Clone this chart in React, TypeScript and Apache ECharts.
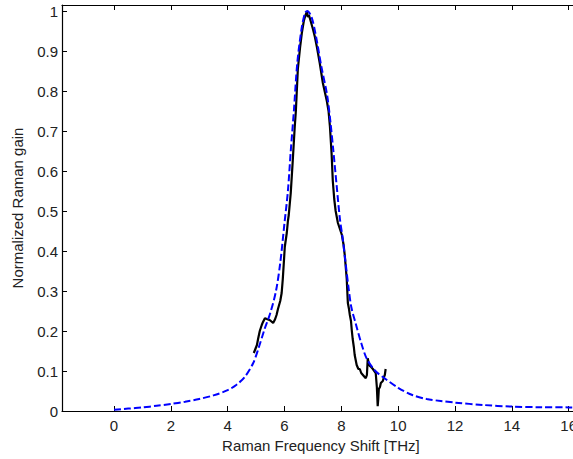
import React, { useEffect, useRef } from "react";
import * as echarts from "echarts";

const xTicks = [0, 2, 4, 6, 8, 10, 12, 14, 16];
const yTicks = [0, 0.1, 0.2, 0.3, 0.4, 0.5, 0.6, 0.7, 0.8, 0.9, 1];

// Measured Raman gain (black solid)
const measuredX = [4.92, 5.03, 5.07, 5.13, 5.2, 5.24, 5.31, 5.38, 5.49, 5.6, 5.66, 5.72, 5.77, 5.85, 5.9, 5.94, 5.98, 6.01, 6.08, 6.12, 6.15, 6.22, 6.29, 6.36, 6.4, 6.47, 6.55, 6.61, 6.68, 6.74, 6.79, 6.82, 6.86, 6.92, 7.0, 7.07, 7.14, 7.24, 7.35, 7.49, 7.55, 7.6, 7.66, 7.7, 7.75, 7.8, 7.88, 7.95, 8.02, 8.08, 8.12, 8.19, 8.23, 8.27, 8.3, 8.34, 8.37, 8.4, 8.44, 8.47, 8.54, 8.6, 8.65, 8.7, 8.76, 8.82, 8.86, 8.9, 8.93, 8.96, 9.0, 9.05, 9.11, 9.16, 9.21, 9.25, 9.28, 9.3, 9.32, 9.36, 9.39, 9.46, 9.5, 9.53, 9.56];
const measuredY = [0.145, 0.165, 0.18, 0.2, 0.215, 0.222, 0.232, 0.23, 0.227, 0.22, 0.228, 0.24, 0.255, 0.275, 0.295, 0.33, 0.375, 0.41, 0.445, 0.475, 0.49, 0.545, 0.625, 0.71, 0.75, 0.855, 0.91, 0.945, 0.975, 0.99, 0.998, 0.985, 0.99, 0.975, 0.955, 0.935, 0.91, 0.87, 0.82, 0.775, 0.75, 0.71, 0.64, 0.575, 0.53, 0.5, 0.47, 0.455, 0.44, 0.415, 0.39, 0.33, 0.27, 0.255, 0.24, 0.225, 0.2, 0.18, 0.16, 0.14, 0.115, 0.105, 0.105, 0.095, 0.09, 0.085, 0.082, 0.09, 0.132, 0.12, 0.113, 0.11, 0.105, 0.1, 0.095, 0.06, 0.012, 0.03, 0.055, 0.06, 0.07, 0.075, 0.085, 0.09, 0.105];

// Fitted Raman gain (blue dashed)
const fitX = [0, 0.5, 1, 1.5, 2, 2.5, 3, 3.5, 4, 4.3, 4.6, 4.9, 5.1, 5.3, 5.5, 5.7, 5.85, 6.0, 6.12, 6.22, 6.33, 6.45, 6.6, 6.72, 6.8, 6.95, 7.1, 7.3, 7.5, 7.62, 7.72, 7.84, 7.95, 8.05, 8.15, 8.25, 8.35, 8.5, 8.7, 8.9, 9.2, 9.5, 10, 10.5, 11, 11.5, 12, 13, 14, 15, 16, 16.5];
const fitY = [0.003, 0.006, 0.009, 0.013, 0.0175, 0.023, 0.03, 0.039, 0.052, 0.065, 0.085, 0.12, 0.16, 0.205, 0.245, 0.3, 0.37, 0.47, 0.55, 0.65, 0.75, 0.87, 0.955, 0.995, 1.0, 0.985, 0.94, 0.86, 0.79, 0.72, 0.65, 0.56, 0.48, 0.43, 0.37, 0.31, 0.26, 0.22, 0.17, 0.13, 0.1, 0.083, 0.058, 0.04, 0.03, 0.025, 0.021, 0.015, 0.011, 0.0095, 0.009, 0.008];

const FONT = "Liberation Sans, Arial, sans-serif";

export default function App() {
  const ref = useRef<HTMLDivElement>(null);
  useEffect(() => {
    document.body.style.margin = "0";
    document.body.style.overflow = "hidden";
    if (!ref.current) return;
    const chart = echarts.init(ref.current, undefined, { renderer: "svg" });
    const axisLine = { show: true, onZero: false, lineStyle: { color: "#000", width: 1.2 } };
    chart.setOption({
      animation: false,
      backgroundColor: "#fff",
      grid: { left: 62, top: 5, right: 0, bottom: 48, containLabel: false },
      xAxis: [
        {
          type: "value",
          min: -1.83,
          max: 16.39,
          position: "bottom",
          name: "Raman Frequency Shift [THz]",
          nameLocation: "middle",
          nameGap: 27,
          nameTextStyle: { fontFamily: FONT, fontSize: 15, color: "#222" },
          axisLine,
          axisTick: { show: true, inside: true, length: 5, customValues: xTicks, lineStyle: { color: "#000" } },
          axisLabel: { customValues: xTicks, fontFamily: FONT, fontSize: 15, color: "#222", margin: 7, formatter: (v: number) => String(v) },
          splitLine: { show: false },
        },
        {
          type: "value",
          min: -1.83,
          max: 16.39,
          position: "top",
          axisLine,
          axisTick: { show: true, inside: true, length: 5, customValues: xTicks, lineStyle: { color: "#000" } },
          axisLabel: { show: false },
          splitLine: { show: false },
        },
      ],
      yAxis: {
        type: "value",
        min: 0,
        max: 1.015,
        name: "Normalized Raman gain",
        nameLocation: "middle",
        nameGap: 37,
        nameTextStyle: { fontFamily: FONT, fontSize: 15, color: "#222" },
        axisLine,
        axisTick: { show: true, inside: true, length: 5, customValues: yTicks, lineStyle: { color: "#000" } },
        axisLabel: { customValues: yTicks, fontFamily: FONT, fontSize: 15, color: "#222", margin: 4, formatter: (v: number) => String(Math.round(v * 10) / 10) },
        splitLine: { show: false },
      },
      series: [
        {
          type: "line",
          name: "measured",
          data: measuredX.map((x, i) => [x, measuredY[i]]),
          showSymbol: false,
          symbol: "none",
          lineStyle: { color: "#000", width: 2.2 },
          z: 2,
        },
        {
          type: "line",
          name: "fit",
          data: fitX.map((x, i) => [x, fitY[i]]),
          showSymbol: false,
          symbol: "none",
          smooth: 0.3,
          lineStyle: { color: "#0000ff", width: 2, type: [7, 3] },
          z: 3,
        },
      ],
    });
    return () => chart.dispose();
  }, []);
  return <div ref={ref} style={{ width: 580, height: 459 }} />;
}
